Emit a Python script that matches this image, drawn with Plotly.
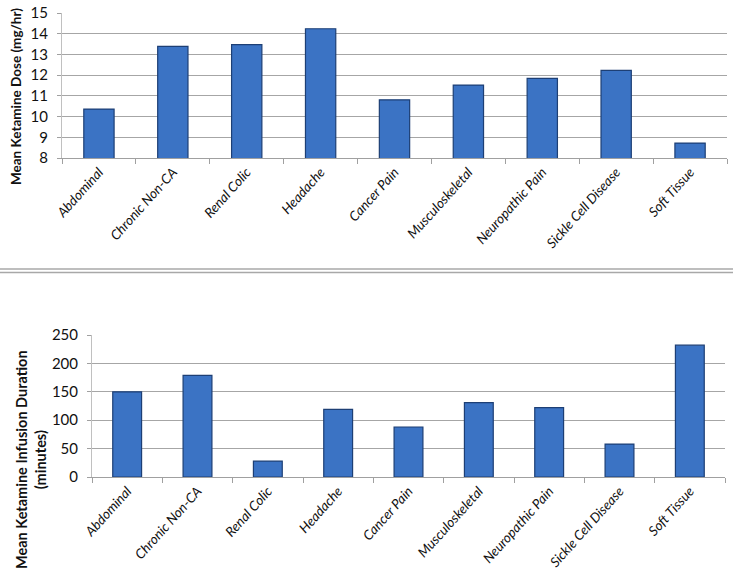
import plotly.graph_objects as go

categories = ["Abdominal", "Chronic Non-CA", "Renal Colic", "Headache", "Cancer Pain",
              "Musculoskeletal", "Neuropathic Pain", "Sickle Cell Disease", "Soft Tissue"]
dose_values = [10.36, 13.39, 13.47, 14.24, 10.81, 11.52, 11.84, 12.23, 8.72]
duration_values = [150, 179, 28, 119, 88, 131, 122, 58, 232]
dose_ticks = [8, 9, 10, 11, 12, 13, 14, 15]
duration_ticks = [0, 50, 100, 150, 200, 250]

W, H = 740, 586


def py(y):
    return 1 - y / H


def px(x):
    return x / W


bar_color = "#3B73C4"
bar_line = "#1D3F75"
grid = "#A6A6A6"
font_fam = "Lato, 'Open Sans', Arial, sans-serif"

fig = go.Figure()
fig.add_trace(go.Bar(x=categories, y=dose_values, xaxis="x", yaxis="y",
                     marker=dict(color=bar_color, line=dict(color=bar_line, width=1.2)),
                     width=0.41, showlegend=False))
fig.add_trace(go.Bar(x=categories, y=duration_values, xaxis="x2", yaxis="y2",
                     marker=dict(color=bar_color, line=dict(color=bar_line, width=1.2)),
                     width=0.41, showlegend=False))

xcommon = dict(type="category", showgrid=False, showline=True, linecolor="#A0A0A0",
               ticks="outside", tickson="boundaries", ticklen=5, tickcolor="#A0A0A0",
               tickangle=-48, automargin=False,
               tickfont=dict(family=font_fam, size=13.5, color="#111111", style="italic"))
ycommon = dict(showgrid=True, gridcolor=grid, gridwidth=1, showline=True, linecolor="#C0C0C0",
               ticks="outside", ticklen=4, tickcolor="#A0A0A0", zeroline=False, automargin=False,
               ticklabelstandoff=6, ticklabeloverflow="allow",
               tickfont=dict(family=font_fam, size=15, color="#111111"))

fig.update_layout(
    width=W, height=H, margin=dict(l=0, r=0, t=0, b=0, autoexpand=False),
    paper_bgcolor="white", plot_bgcolor="white",
    xaxis=dict(domain=[px(62), px(727)], anchor="y", **xcommon),
    yaxis=dict(domain=[py(158), py(13)], anchor="x", range=[8, 15], tickvals=dose_ticks,
               **ycommon),
    xaxis2=dict(domain=[px(92), px(725)], anchor="y2", **xcommon),
    yaxis2=dict(domain=[py(477), py(335)], anchor="x2", range=[0, 250], tickvals=duration_ticks,
                **ycommon),
)

fig.add_annotation(text="Mean Ketamine Dose (mg/hr)", xref="paper", yref="paper",
                   x=px(16), y=py(97), textangle=-90, showarrow=False,
                   xanchor="center", yanchor="middle",
                   font=dict(family=font_fam, size=13.5, color="#111111", weight="bold"))
fig.add_annotation(text="Mean Ketamine Infusion Duration<br>(minutes)", xref="paper", yref="paper",
                   x=px(31), y=py(460), textangle=-90, showarrow=False,
                   xanchor="center", yanchor="middle",
                   font=dict(family=font_fam, size=14.5, color="#111111", weight="bold"))

for yy in (269, 272.5):
    fig.add_shape(type="line", xref="paper", yref="paper", x0=0, x1=px(733),
                  y0=py(yy), y1=py(yy), line=dict(color="#A8A8A8", width=1.5))

fig.write_html("out.html", config={"displayModeBar": False},
               post_script="document.body.style.margin='0px';")
